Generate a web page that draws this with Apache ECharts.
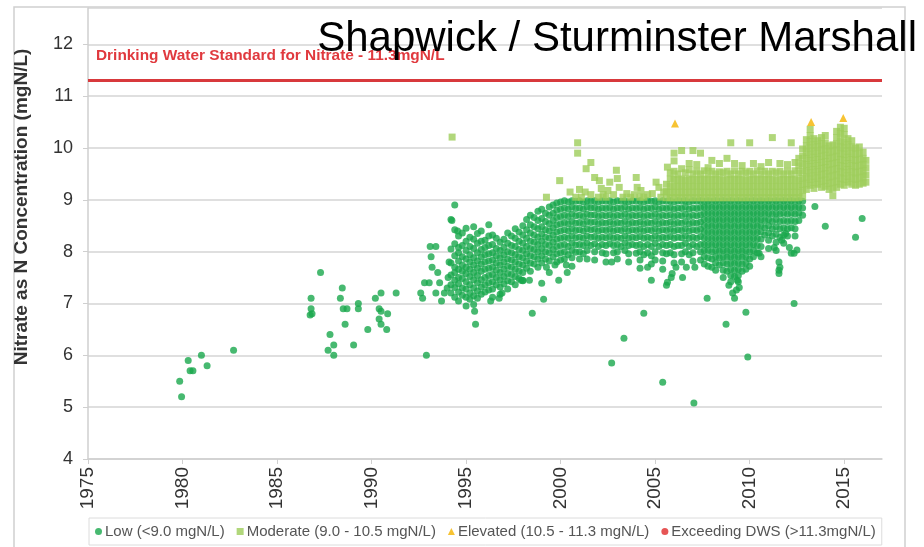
<!DOCTYPE html>
<html>
<head>
<meta charset="utf-8">
<script src="https://cdn.jsdelivr.net/npm/echarts@6/dist/echarts.min.js"></script>
<style>
  html, body { margin: 0; padding: 0; background: #fff; }
  #chart { width: 924px; height: 547px; }
</style>
</head>
<body>
<div id="chart"></div>
<script>
var titleText = 'Shapwick / Sturminster Marshall';
var yAxisTitle = 'Nitrate as N Concentration (mgN/L)';
var dwsLabel = 'Drinking Water Standard for Nitrate - 11.3mgN/L';
var dwsLevel = 11.3;
var seriesNames = ['Low (<9.0 mgN/L)', 'Moderate (9.0 - 10.5 mgN/L)', 'Elevated (10.5 - 11.3 mgN/L)', 'Exceeding DWS (>11.3mgN/L)'];

// single readings, mostly the early years and the outliers
var lowPoints = [
  [1979.85, 5.5], [1979.95, 5.2], [1980.3, 5.9], [1980.4, 5.7], [1980.55, 5.7], [1981.0, 6.0], [1981.3, 5.8], [1982.7, 6.1],
  [1986.8, 7.1], [1986.8, 6.9], [1986.85, 6.8], [1986.75, 6.78], [1987.3, 7.6], [1987.8, 6.4], [1988.0, 6.2], [1987.7, 6.1],
  [1988.0, 6.0], [1988.45, 7.3], [1988.35, 7.1], [1988.5, 6.9], [1988.7, 6.9], [1988.6, 6.6], [1989.05, 6.2], [1989.3, 7.0],
  [1989.3, 6.9], [1989.8, 6.5], [1990.2, 7.1], [1990.5, 7.2], [1990.4, 6.9], [1990.5, 6.85], [1990.4, 6.7], [1990.5, 6.6],
  [1990.8, 6.5], [1990.85, 6.8], [1991.3, 7.2],
  [1992.6, 7.2], [1992.7, 7.1], [1992.9, 6.0], [1992.8, 7.4], [1993.05, 7.4], [1993.1, 8.1], [1993.4, 8.1], [1993.15, 7.9],
  [1993.2, 7.7], [1993.5, 7.6], [1993.6, 7.4], [1993.4, 7.2], [1993.85, 7.2], [1993.7, 7.05], [1994.4, 8.9], [1994.25, 8.6],
  [1994.55, 8.4], [1995.45, 6.85], [1995.5, 6.6], [1994.05, 7.5], [1994.1, 7.8], [1994.0, 7.3],
  [1996.3, 7.05], [1996.75, 7.1], [1996.9, 7.2], [1997.9, 7.45], [1998.0, 7.45], [1998.35, 7.45], [1998.5, 6.81],
  [1999.1, 7.08], [1999.0, 7.39], [1999.25, 7.7], [1999.4, 7.6], [1999.7, 7.74], [1999.9, 7.45], [2000.3, 7.74], [2000.35, 7.6],
  [2002.7, 7.8], [2002.7, 5.85], [2003.35, 6.33], [2004.4, 6.81], [2004.6, 7.7], [2004.8, 7.45], [2005.4, 5.48], [2005.6, 7.35],
  [2005.65, 7.41], [2005.85, 7.5], [2005.9, 7.58], [2006.1, 7.7], [2006.45, 7.5], [2006.65, 7.7], [2007.05, 5.08], [2007.1, 7.7],
  [2007.75, 7.1], [2008.75, 6.6], [2008.9, 7.35], [2009.1, 7.2], [2009.2, 7.1], [2009.3, 7.26], [2009.35, 7.45], [2009.45, 7.31],
  [2009.8, 6.83], [2009.9, 5.97], [2010.5, 7.97], [2010.6, 7.9], [2011.3, 8.08], [2011.55, 7.58], [2011.55, 7.8], [2011.55, 7.64],
  [2011.6, 7.7], [2011.7, 8.22], [2011.9, 8.35], [2012.1, 8.08], [2012.2, 7.97], [2012.35, 7.97], [2012.35, 7.0], [2012.5, 8.03],
  [2013.45, 8.87], [2014.0, 8.49], [2015.6, 8.28], [2015.95, 8.64]
];

// dense part of the record, read column by column: [year, [values]]
var lowColumns = [
  [1994.2, [8.62, 8.05, 7.78, 7.55, 7.36, 7.2]],
  [1994.4, [8.42, 8.15, 7.92, 7.7, 7.6, 7.45, 7.31, 7.12]],
  [1994.6, [8.3, 8.08, 7.98, 7.82, 7.66, 7.5, 7.38, 7.22, 7.05]],
  [1994.8, [8.36, 8.12, 7.9, 7.74, 7.62, 7.48, 7.3, 7.16]],
  [1995.0, [8.45, 8.2, 8.02, 7.86, 7.7, 7.58, 7.42, 7.28, 7.12, 6.95]],
  [1995.2, [8.28, 8.1, 7.94, 7.8, 7.66, 7.52, 7.36, 7.2, 7.08]],
  [1995.4, [8.48, 8.24, 8.06, 7.88, 7.74, 7.6, 7.46, 7.3, 7.15, 6.98]],
  [1995.6, [8.35, 8.16, 7.98, 7.82, 7.68, 7.54, 7.4, 7.24, 7.1]],
  [1995.8, [8.4, 8.2, 8.04, 7.9, 7.76, 7.62, 7.46, 7.32, 7.18]],
  [1996.0, [8.22, 8.08, 7.94, 7.8, 7.66, 7.5, 7.36, 7.22]],
  [1996.2, [8.52, 8.3, 8.12, 7.96, 7.82, 7.68, 7.54, 7.4, 7.26]],
  [1996.4, [8.32, 8.14, 7.98, 7.84, 7.7, 7.56, 7.42, 7.28, 7.12]],
  [1996.6, [8.26, 8.06, 7.92, 7.78, 7.64, 7.5, 7.36]],
  [1996.8, [8.18, 8.02, 7.88, 7.74, 7.6, 7.46, 7.32, 7.18]],
  [1997.0, [8.24, 8.08, 7.94, 7.8, 7.66, 7.52, 7.38]],
  [1997.2, [8.36, 8.16, 8.0, 7.86, 7.72, 7.58, 7.44, 7.28]],
  [1997.4, [8.3, 8.12, 7.98, 7.84, 7.7, 7.56, 7.42]],
  [1997.6, [8.44, 8.26, 8.1, 7.94, 7.8, 7.66, 7.52, 7.36]],
  [1997.8, [8.38, 8.2, 8.04, 7.9, 7.76, 7.62, 7.48]],
  [1998.0, [8.5, 8.32, 8.16, 8.02, 7.88, 7.74, 7.6, 7.44]],
  [1998.2, [8.62, 8.42, 8.26, 8.1, 7.96, 7.82, 7.68]],
  [1998.4, [8.7, 8.52, 8.36, 8.2, 8.06, 7.92, 7.78, 7.62]],
  [1998.6, [8.66, 8.48, 8.32, 8.18, 8.04, 7.9, 7.76]],
  [1998.8, [8.78, 8.6, 8.44, 8.28, 8.14, 8.0, 7.86, 7.7]],
  [1999.0, [8.82, 8.64, 8.48, 8.34, 8.2, 8.06, 7.92, 7.78]],
  [1999.2, [8.74, 8.58, 8.42, 8.28, 8.14, 8.0, 7.86]],
  [1999.4, [8.86, 8.7, 8.54, 8.4, 8.26, 8.12, 7.98, 7.82]],
  [1999.6, [8.9, 8.74, 8.6, 8.46, 8.32, 8.18, 8.04, 7.9]],
  [1999.8, [8.94, 8.8, 8.66, 8.52, 8.38, 8.24, 8.1, 7.96, 7.8]],
  [2000.0, [8.96, 8.82, 8.68, 8.54, 8.4, 8.26, 8.12, 7.98, 7.84]],
  [2000.2, [8.98, 8.84, 8.7, 8.56, 8.42, 8.28, 8.14, 8.0, 7.86]],
  [2000.4, [8.96, 8.82, 8.68, 8.54, 8.4, 8.26, 8.1, 7.94]],
  [2000.6, [8.98, 8.86, 8.72, 8.58, 8.44, 8.3, 8.16, 8.02, 7.88, 7.72]],
  [2000.8, [8.97, 8.83, 8.69, 8.55, 8.41, 8.27, 8.13, 7.99]],
  [2001.0, [8.98, 8.84, 8.7, 8.56, 8.42, 8.28, 8.14, 8.0, 7.86]],
  [2001.2, [8.96, 8.82, 8.68, 8.54, 8.4, 8.26, 8.12, 7.96]],
  [2001.4, [8.98, 8.86, 8.72, 8.58, 8.44, 8.3, 8.16, 8.02, 7.86]],
  [2001.6, [8.97, 8.84, 8.7, 8.56, 8.42, 8.28, 8.12]],
  [2001.8, [8.98, 8.85, 8.71, 8.57, 8.43, 8.29, 8.15, 8.0, 7.84]],
  [2002.0, [8.96, 8.82, 8.68, 8.54, 8.4, 8.26, 8.1]],
  [2002.2, [8.98, 8.84, 8.7, 8.56, 8.42, 8.28, 8.14, 7.98]],
  [2002.4, [8.97, 8.83, 8.69, 8.55, 8.41, 8.27, 8.12, 7.96, 7.8]],
  [2002.6, [8.98, 8.85, 8.71, 8.57, 8.43, 8.29, 8.15]],
  [2002.8, [8.96, 8.82, 8.68, 8.54, 8.4, 8.26, 8.12, 7.98]],
  [2003.0, [8.98, 8.84, 8.7, 8.56, 8.42, 8.28, 8.14, 8.0, 7.86]],
  [2003.2, [8.97, 8.83, 8.69, 8.55, 8.41, 8.26, 8.1]],
  [2003.4, [8.98, 8.86, 8.72, 8.58, 8.44, 8.3, 8.16, 8.02]],
  [2003.6, [8.96, 8.82, 8.68, 8.54, 8.4, 8.26, 8.12, 7.96, 7.8]],
  [2003.8, [8.98, 8.84, 8.7, 8.56, 8.42, 8.28, 8.14]],
  [2004.0, [8.97, 8.83, 8.69, 8.55, 8.41, 8.27, 8.12, 7.97]],
  [2004.2, [8.98, 8.85, 8.71, 8.57, 8.43, 8.29, 8.14, 8.0, 7.84, 7.68]],
  [2004.4, [8.96, 8.82, 8.68, 8.54, 8.4, 8.26, 8.1, 7.94]],
  [2004.6, [8.98, 8.84, 8.7, 8.56, 8.42, 8.28, 8.14, 7.98]],
  [2004.8, [8.97, 8.83, 8.69, 8.55, 8.41, 8.26, 8.1, 7.92, 7.76]],
  [2005.0, [8.98, 8.86, 8.72, 8.58, 8.44, 8.3, 8.16, 8.0, 7.84]],
  [2005.2, [8.96, 8.82, 8.68, 8.54, 8.4, 8.26, 8.1]],
  [2005.4, [8.98, 8.84, 8.7, 8.56, 8.42, 8.28, 8.14, 7.98, 7.82, 7.66]],
  [2005.6, [8.97, 8.83, 8.69, 8.55, 8.41, 8.27, 8.12, 7.96]],
  [2005.8, [8.98, 8.85, 8.71, 8.57, 8.43, 8.29, 8.14, 7.98]],
  [2006.0, [8.96, 8.82, 8.68, 8.54, 8.4, 8.26, 8.1, 7.94, 7.78]],
  [2006.2, [8.98, 8.84, 8.7, 8.56, 8.42, 8.28, 8.12]],
  [2006.4, [8.97, 8.83, 8.69, 8.55, 8.41, 8.27, 8.12, 7.96, 7.8]],
  [2006.6, [8.98, 8.86, 8.72, 8.58, 8.44, 8.3, 8.16, 8.0]],
  [2006.8, [8.96, 8.82, 8.68, 8.54, 8.4, 8.26, 8.1, 7.94]],
  [2007.0, [8.98, 8.84, 8.7, 8.56, 8.42, 8.28, 8.14, 7.98, 7.82]],
  [2007.2, [8.97, 8.83, 8.69, 8.55, 8.41, 8.26, 8.1]],
  [2007.4, [8.98, 8.85, 8.71, 8.57, 8.43, 8.29, 8.14, 8.0, 7.84]],
  [2007.6, [8.97, 8.86, 8.74, 8.62, 8.5, 8.38, 8.26, 8.14, 8.02, 7.9, 7.76]],
  [2007.8, [8.98, 8.86, 8.74, 8.62, 8.5, 8.38, 8.26, 8.14, 8.02, 7.88, 7.72]],
  [2008.0, [8.97, 8.85, 8.73, 8.61, 8.49, 8.37, 8.25, 8.13, 8.0, 7.86, 7.7]],
  [2008.2, [8.98, 8.86, 8.74, 8.62, 8.5, 8.38, 8.26, 8.14, 8.02, 7.9, 7.78, 7.64]],
  [2008.4, [8.97, 8.85, 8.73, 8.61, 8.49, 8.37, 8.25, 8.13, 8.01, 7.88, 7.74]],
  [2008.6, [8.98, 8.86, 8.74, 8.62, 8.5, 8.38, 8.26, 8.14, 8.02, 7.9, 7.78, 7.64, 7.5]],
  [2008.8, [8.97, 8.85, 8.73, 8.61, 8.49, 8.37, 8.25, 8.13, 8.01, 7.89, 7.76, 7.62]],
  [2009.0, [8.98, 8.86, 8.74, 8.62, 8.5, 8.38, 8.26, 8.14, 8.02, 7.9, 7.78, 7.66, 7.54, 7.42]],
  [2009.2, [8.97, 8.85, 8.73, 8.61, 8.49, 8.37, 8.25, 8.13, 8.01, 7.89, 7.77, 7.64, 7.52]],
  [2009.4, [8.98, 8.86, 8.74, 8.62, 8.5, 8.38, 8.26, 8.14, 8.02, 7.9, 7.78, 7.66, 7.54, 7.42]],
  [2009.6, [8.97, 8.85, 8.73, 8.61, 8.49, 8.37, 8.25, 8.13, 8.01, 7.89, 7.76, 7.62]],
  [2009.8, [8.98, 8.86, 8.74, 8.62, 8.5, 8.38, 8.26, 8.14, 8.02, 7.9, 7.78, 7.66]],
  [2010.0, [8.97, 8.85, 8.73, 8.61, 8.49, 8.37, 8.25, 8.13, 8.0, 7.86, 7.72]],
  [2010.2, [8.98, 8.86, 8.74, 8.62, 8.5, 8.38, 8.26, 8.14, 8.02, 7.9]],
  [2010.4, [8.97, 8.85, 8.73, 8.61, 8.49, 8.37, 8.25, 8.12, 7.98]],
  [2010.6, [8.98, 8.86, 8.74, 8.62, 8.5, 8.38, 8.24, 8.1]],
  [2010.8, [8.97, 8.85, 8.73, 8.6, 8.46, 8.32]],
  [2011.0, [8.98, 8.86, 8.74, 8.62, 8.5, 8.36, 8.22, 8.06]],
  [2011.2, [8.97, 8.85, 8.72, 8.58, 8.44, 8.3]],
  [2011.4, [8.98, 8.86, 8.74, 8.62, 8.48, 8.34, 8.18, 8.02]],
  [2011.6, [8.97, 8.85, 8.72, 8.58, 8.44, 8.28]],
  [2011.8, [8.98, 8.86, 8.74, 8.6, 8.46, 8.32, 8.16]],
  [2012.0, [8.97, 8.85, 8.72, 8.58, 8.44, 8.3]],
  [2012.2, [8.98, 8.86, 8.74, 8.6, 8.46]],
  [2012.4, [8.97, 8.85, 8.72, 8.58, 8.44, 8.3]],
  [2012.6, [8.98, 8.86, 8.74, 8.6]],
  [2012.8, [8.97, 8.84, 8.7]]
];

var moderatePoints = [
  [1994.26, 10.21], [1999.25, 9.05], [1999.95, 9.37], [2000.9, 10.1], [2000.9, 9.9], [2000.8, 9.05], [2001.1, 9.05],
  [2001.3, 9.15], [2001.35, 9.6], [2001.6, 9.72], [2001.8, 9.43], [2001.6, 9.1], [2002.05, 9.37], [2002.15, 9.22],
  [2002.0, 9.05], [2002.5, 9.18], [2002.6, 9.34], [2002.4, 9.05], [2002.8, 9.1], [2002.95, 9.57], [2003.0, 9.41],
  [2003.1, 9.24], [2003.3, 9.05], [2003.5, 9.12], [2003.7, 9.05], [2004.0, 9.43], [2004.05, 9.24], [2004.25, 9.18],
  [2004.4, 9.05], [2004.6, 9.1], [2004.85, 9.12], [2005.05, 9.34], [2005.2, 9.24], [2005.3, 9.05], [2005.45, 9.15],
  [2005.65, 9.63], [2001.0, 9.2], [2000.5, 9.15], [2003.9, 9.1], [2004.2, 9.05], [2002.25, 9.1]
];

var moderateColumns = [
  [2005.6, [9.04, 9.16, 9.3]],
  [2005.8, [9.04, 9.14, 9.26, 9.4, 9.52]],
  [2006.0, [9.04, 9.15, 9.27, 9.4, 9.55, 9.75, 9.9]],
  [2006.2, [9.04, 9.14, 9.26, 9.38, 9.5]],
  [2006.4, [9.04, 9.15, 9.27, 9.4, 9.6, 9.95]],
  [2006.6, [9.04, 9.14, 9.26, 9.38, 9.52]],
  [2006.8, [9.04, 9.15, 9.27, 9.4, 9.58, 9.7]],
  [2007.0, [9.04, 9.14, 9.26, 9.38, 9.5, 9.95]],
  [2007.2, [9.04, 9.15, 9.27, 9.4, 9.55, 9.68]],
  [2007.4, [9.04, 9.14, 9.26, 9.38, 9.5, 9.9]],
  [2007.6, [9.04, 9.15, 9.27, 9.4, 9.56]],
  [2007.8, [9.04, 9.14, 9.26, 9.38, 9.5, 9.62]],
  [2008.0, [9.04, 9.15, 9.27, 9.4, 9.55, 9.76]],
  [2008.2, [9.04, 9.14, 9.26, 9.38, 9.5]],
  [2008.4, [9.04, 9.15, 9.27, 9.4, 9.54, 9.7]],
  [2008.6, [9.04, 9.14, 9.26, 9.38, 9.52]],
  [2008.8, [9.04, 9.15, 9.27, 9.4, 9.55, 9.8]],
  [2009.0, [9.04, 9.14, 9.26, 9.38, 9.5, 10.1]],
  [2009.2, [9.04, 9.15, 9.27, 9.4, 9.56, 9.7]],
  [2009.4, [9.04, 9.14, 9.26, 9.38, 9.5]],
  [2009.6, [9.04, 9.15, 9.27, 9.4, 9.55, 9.66]],
  [2009.8, [9.04, 9.14, 9.26, 9.38, 9.52]],
  [2010.0, [9.04, 9.15, 9.27, 9.4, 9.55, 10.1]],
  [2010.2, [9.04, 9.14, 9.26, 9.38, 9.5, 9.7]],
  [2010.4, [9.04, 9.15, 9.27, 9.4, 9.56]],
  [2010.6, [9.04, 9.14, 9.26, 9.38, 9.5, 9.64]],
  [2010.8, [9.04, 9.15, 9.27, 9.4, 9.55]],
  [2011.0, [9.04, 9.14, 9.26, 9.38, 9.5, 9.72]],
  [2011.2, [9.04, 9.15, 9.27, 9.4, 9.55, 10.2]],
  [2011.4, [9.04, 9.14, 9.26, 9.38, 9.52]],
  [2011.6, [9.04, 9.15, 9.27, 9.4, 9.55, 9.7]],
  [2011.8, [9.04, 9.14, 9.26, 9.38, 9.5]],
  [2012.0, [9.04, 9.15, 9.27, 9.4, 9.55, 9.68]],
  [2012.2, [9.04, 9.14, 9.26, 9.38, 9.5, 10.1]],
  [2012.4, [9.04, 9.15, 9.27, 9.4, 9.56, 9.72]],
  [2012.6, [9.04, 9.14, 9.26, 9.38, 9.52, 9.66, 9.8]],
  [2012.8, [9.06, 9.18, 9.3, 9.42, 9.56, 9.7, 9.84, 9.98]],
  [2013.0, [9.2, 9.32, 9.44, 9.56, 9.68, 9.8, 9.92, 10.04, 10.16]],
  [2013.2, [9.28, 9.4, 9.52, 9.64, 9.76, 9.88, 10.0, 10.12, 10.24, 10.36]],
  [2013.4, [9.22, 9.34, 9.46, 9.58, 9.7, 9.82, 9.94, 10.06, 10.18]],
  [2013.6, [9.3, 9.42, 9.54, 9.66, 9.78, 9.9, 10.02, 10.14]],
  [2013.8, [9.24, 9.36, 9.48, 9.6, 9.72, 9.84, 9.96, 10.08, 10.2]],
  [2014.0, [9.26, 9.38, 9.5, 9.62, 9.74, 9.86, 9.98, 10.1, 10.24]],
  [2014.2, [9.2, 9.32, 9.44, 9.56, 9.68, 9.8, 9.92, 10.04]],
  [2014.4, [9.08, 9.22, 9.34, 9.46, 9.58, 9.7, 9.82, 9.94, 10.06]],
  [2014.6, [9.24, 9.36, 9.48, 9.6, 9.72, 9.84, 9.96, 10.08, 10.2, 10.32]],
  [2014.8, [9.3, 9.42, 9.54, 9.66, 9.78, 9.9, 10.02, 10.14, 10.28, 10.4]],
  [2015.0, [9.28, 9.4, 9.52, 9.64, 9.76, 9.88, 10.0, 10.12, 10.26, 10.38]],
  [2015.2, [9.34, 9.46, 9.58, 9.7, 9.82, 9.94, 10.06, 10.18]],
  [2015.4, [9.3, 9.42, 9.54, 9.66, 9.78, 9.9, 10.02, 10.14]],
  [2015.6, [9.28, 9.4, 9.52, 9.64, 9.76, 9.88, 10.0]],
  [2015.8, [9.3, 9.42, 9.54, 9.66, 9.78, 9.9, 10.02]],
  [2016.0, [9.32, 9.44, 9.56, 9.68, 9.8, 9.92]],
  [2016.15, [9.34, 9.48, 9.62, 9.76]]
];

var elevatedPoints = [[2006.05, 10.47], [2013.25, 10.5], [2014.95, 10.58]];
var exceedingPoints = [];

function expand(cols) {
  var out = [];
  cols.forEach(function (c) {
    c[1].forEach(function (v) { out.push([c[0], v]); });
  });
  return out;
}

var font = 'Liberation Sans, Arial, sans-serif';
var chart = echarts.init(document.getElementById('chart'), null, { renderer: 'canvas' });

chart.setOption({
  animation: false,
  backgroundColor: '#fff',
  grid: { left: 88, right: 42, top: 8, bottom: 88, containLabel: false },
  legend: {
    left: 89,
    top: 518,
    padding: [6, 6, 6, 6],
    borderColor: '#dcdcdc',
    borderWidth: 1,
    itemWidth: 7,
    itemHeight: 7,
    itemGap: 12,
    textStyle: { fontFamily: font, fontSize: 15, color: '#555', padding: [0, 0, 0, -2] },
    data: [
      { name: seriesNames[0], icon: 'circle' },
      { name: seriesNames[1], icon: 'rect' },
      { name: seriesNames[2], icon: 'triangle' },
      { name: seriesNames[3], icon: 'circle' }
    ]
  },
  xAxis: {
    type: 'value',
    min: 1975,
    max: 2017,
    interval: 5,
    axisLine: { show: true, lineStyle: { color: '#cfcfcf', width: 1.5 } },
    axisTick: { show: true, length: 5, lineStyle: { color: '#cfcfcf' } },
    splitLine: { show: false },
    axisLabel: {
      rotate: 90,
      margin: 8,
      showMaxLabel: false,
      fontFamily: font,
      fontSize: 19,
      color: '#333',
      formatter: function (v) { return String(v); }
    }
  },
  yAxis: {
    type: 'value',
    min: 4,
    max: 12.7,
    interval: 1,
    axisLine: { show: true, lineStyle: { color: '#cfcfcf', width: 1.5 } },
    axisTick: { show: true, length: 5, lineStyle: { color: '#cfcfcf' } },
    splitLine: { show: true, lineStyle: { color: '#d4d4d4', width: 1.5 } },
    axisLabel: {
      margin: 15,
      showMaxLabel: false,
      fontFamily: font,
      fontSize: 18,
      color: '#333'
    }
  },
  graphic: [
    {
      type: 'rect',
      silent: true,
      shape: { x: 14, y: 7, width: 891, height: 560 },
      style: { fill: 'none', stroke: '#d0d0d0', lineWidth: 1.5 }
    },
    {
      type: 'text',
      x: 22,
      y: 207,
      rotation: Math.PI / 2,
      style: {
        text: yAxisTitle,
        fontFamily: font,
        fontSize: 19,
        fontWeight: 'bold',
        fill: '#333',
        textAlign: 'center',
        textVerticalAlign: 'middle'
      }
    },
    {
      type: 'text',
      x: 96,
      y: 56,
      scaleX: 1.1,
      style: {
        text: dwsLabel,
        fontFamily: font,
        fontSize: 14,
        fontWeight: 'bold',
        fill: '#e0393e',
        textAlign: 'left',
        textVerticalAlign: 'middle'
      }
    },
    {
      type: 'text',
      x: 917,
      y: 39,
      z: 100,
      style: {
        text: titleText,
        fontFamily: font,
        fontSize: 42,
        fill: '#000',
        textAlign: 'right',
        textVerticalAlign: 'middle'
      }
    }
  ],
  series: [
    {
      name: seriesNames[0],
      type: 'scatter',
      symbol: 'circle',
      symbolSize: 7,
      itemStyle: { color: '#19a84c' },
      data: expand(lowColumns).concat(lowPoints),
      markLine: {
        silent: true,
        symbol: 'none',
        label: { show: false },
        lineStyle: { color: '#d8393c', width: 3, type: 'solid' },
        data: [{ yAxis: dwsLevel }]
      }
    },
    {
      name: seriesNames[1],
      type: 'scatter',
      symbol: 'rect',
      symbolSize: 7,
      itemStyle: { color: '#9dcd5a' },
      data: expand(moderateColumns).concat(moderatePoints)
    },
    {
      name: seriesNames[2],
      type: 'scatter',
      symbol: 'triangle',
      symbolSize: 8,
      itemStyle: { color: '#f5b400' },
      data: elevatedPoints
    },
    {
      name: seriesNames[3],
      type: 'scatter',
      symbol: 'circle',
      symbolSize: 6,
      itemStyle: { color: '#e02a2a' },
      data: exceedingPoints
    }
  ]
});
</script>
</body>
</html>
